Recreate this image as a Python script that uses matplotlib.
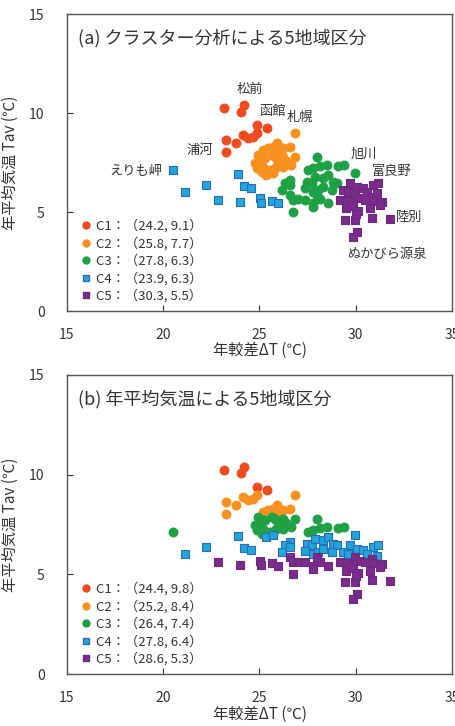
import matplotlib
matplotlib.use('Agg')
import matplotlib.pyplot as plt
from matplotlib.lines import Line2D

plt.rcParams['font.family'] = ['Noto Sans CJK JP', 'DejaVu Sans']

# stations grouped by the cluster of panel (a): 年較差 ΔT, 年平均気温 Tav
DT_C1 = [23.16, 24.19, 24.04, 24.85, 24.16, 24.42, 24.68, 24.85, 23.26, 23.76, 23.26, 25.37]
TAV_C1 = [10.24, 10.40, 10.07, 9.39, 8.89, 8.72, 8.80, 8.97, 8.64, 8.47, 8.05, 9.23]
DT_C2 = [24.94, 25.20, 25.46, 25.72, 25.89, 25.98, 26.24, 26.58, 26.84, 24.77, 25.03, 25.29, 25.63, 25.81,
         26.20, 26.38, 26.64, 25.20, 25.55, 25.81, 25.98, 26.24, 25.34, 24.85, 25.72, 25.11, 26.84]
TAV_C2 = [7.88, 8.13, 8.22, 8.30, 8.50, 8.13, 8.22, 8.27, 7.79, 7.46, 7.59, 7.71, 7.88, 7.79,
          7.79, 7.59, 7.37, 7.26, 7.12, 7.21, 7.46, 7.29, 6.87, 7.21, 6.95, 7.04, 9.00]
DT_C3 = [27.97, 27.54, 27.80, 28.14, 28.49, 29.09, 29.39, 29.96, 26.58, 26.32, 26.15, 26.58, 27.45, 27.71,
         27.88, 28.32, 28.57, 28.83, 29.01, 26.58, 26.76, 27.02, 27.36, 27.80, 28.14, 28.57, 26.72, 27.36,
         27.80, 28.06, 28.32, 28.75, 27.97, 27.80]
TAV_C3 = [7.79, 7.12, 7.21, 7.32, 7.37, 7.32, 7.37, 6.95, 6.62, 6.45, 6.11, 6.36, 6.53, 6.45,
          6.78, 6.70, 6.87, 6.53, 6.45, 5.86, 5.61, 5.64, 5.61, 5.44, 5.64, 5.44, 5.02, 6.19,
          6.03, 6.11, 6.25, 6.11, 5.86, 5.27]
DT_C4 = [20.52, 21.13, 22.22, 22.86, 23.87, 23.99, 24.21, 24.56, 25.03, 25.06, 25.66, 25.94]
TAV_C4 = [7.12, 6.03, 6.36, 5.61, 6.90, 5.49, 6.33, 6.23, 5.69, 5.47, 5.56, 5.44]
DT_C5 = [29.70, 30.05, 30.39, 30.91, 31.17, 29.35, 29.61, 29.96, 30.22, 30.57, 30.83, 31.09, 29.18, 29.56,
         29.87, 30.48, 30.91, 31.35, 29.49, 29.79, 30.10, 30.74, 31.26, 29.44, 29.96, 30.87, 31.78, 30.05,
         29.87, 30.01]
TAV_C5 = [6.45, 6.28, 6.20, 6.36, 6.45, 6.11, 6.03, 5.86, 5.69, 6.03, 5.77, 5.94, 5.61, 5.57,
          5.52, 5.61, 5.57, 5.52, 5.19, 5.30, 5.07, 5.19, 5.35, 4.60, 4.60, 4.71, 4.65, 4.01,
          3.75, 4.90]

# class of the same stations in panel (b) (by annual mean temperature)
B_C1 = [1, 1, 1, 1, 2, 2, 2, 2, 2, 2, 2, 1]
B_C2 = [3, 2, 2, 2, 2, 2, 2, 2, 3, 3, 3, 3, 3, 3, 3, 3, 3, 3, 3, 3, 3, 3, 4, 3, 4, 3, 2]
B_C3 = [3, 3, 3, 3, 3, 3, 3, 4, 4, 4, 4, 4, 4, 4, 4, 4, 4, 4, 4, 5, 5, 5, 5, 5, 5, 5, 5, 4,
        4, 4, 4, 4, 5, 5]
B_C4 = [3, 4, 4, 5, 4, 5, 4, 4, 5, 5, 5, 5]
B_C5 = [4, 4, 4, 4, 4, 4, 4, 5, 5, 4, 5, 4, 5, 5, 5, 5, 5, 5, 5, 5, 5, 5, 5, 5, 5, 5, 5, 5,
        5, 5]

# centroids shown in the legends
CENT_A_DT = [24.2, 25.8, 27.8, 23.9, 30.3]
CENT_A_TAV = [9.1, 7.7, 6.3, 6.3, 5.5]
CENT_B_DT = [24.4, 25.2, 26.4, 27.8, 28.6]
CENT_B_TAV = [9.8, 8.4, 7.4, 6.4, 5.3]

# station names written in panel (a)
STATION_NAMES = ['松前', '函館', '札幌', '浦河', 'えりも岬', '旭川', '富良野', '陸別', 'ぬかびら源泉']
STATION_DT = [24.5, 25.7, 27.1, 21.9, 18.6, 30.4, 31.9, 32.8, 31.6]
STATION_TAV = [11.2, 10.1, 9.8, 8.1, 7.05, 7.9, 7.07, 4.7, 2.83]

COLORS = ['#f04a1e', '#f7901e', '#1ea045', '#22a4dc', '#7b2b8c']
EDGES = ['#f04a1e', '#f7901e', '#1ea045', '#2a6cb4', '#6a2a7e']
MARKERS = ['o', 'o', 'o', 's', 's']
SIZES = [40, 40, 40, 28, 28]


def draw_panel(ax, groups, title, cent_dt, cent_tav):
    for k, (xs, ys) in enumerate(groups):
        ax.scatter(xs, ys, s=SIZES[k], marker=MARKERS[k], c=COLORS[k],
                   edgecolors=EDGES[k], linewidths=0.8, zorder=3)
    ax.set_xlim(15, 35)
    ax.set_ylim(0, 15)
    ax.set_xticks([15, 20, 25, 30, 35])
    ax.set_yticks([0, 5, 10, 15])
    ax.tick_params(direction='in', length=4, labelsize=10, colors='#333333')
    ax.tick_params(axis='x', pad=12)
    ax.tick_params(axis='y', pad=16)
    for sp in ax.spines.values():
        sp.set_color('#555555')
        sp.set_linewidth(1.0)
    ax.set_xlabel('年較差ΔT (℃)', fontsize=11, color='#333333')
    ax.set_ylabel('年平均気温 Tav (℃)', fontsize=11, color='#333333')
    ax.xaxis.set_label_coords(0.5, -0.105)
    ax.yaxis.set_label_coords(-0.125, 0.5)
    ax.text(0.03, 0.92, title, transform=ax.transAxes, fontsize=13,
            color='#333333', va='center', ha='left')

    handles = []
    for k in range(5):
        lab = 'C%d：（%.1f, %.1f）' % (k + 1, cent_dt[k], cent_tav[k])
        handles.append(Line2D([], [], linestyle='none', marker=MARKERS[k],
                              markersize=5 if k < 3 else 4.5,
                              markerfacecolor=COLORS[k], markeredgecolor=EDGES[k],
                              label=lab))
    leg = ax.legend(handles=handles, loc='lower left', bbox_to_anchor=(0.02, 0.0),
                    frameon=False, fontsize=9.5, handlelength=0.6, handletextpad=0.4,
                    labelspacing=0.3, borderaxespad=0.2)
    for t in leg.get_texts():
        t.set_color('#333333')


fig = plt.figure(figsize=(4.55, 7.26), dpi=100)
ax1 = fig.add_axes([0.147, 0.5716, 0.8464, 0.4091])
ax2 = fig.add_axes([0.147, 0.0716, 0.8464, 0.4119])

groups_a = [(DT_C1, TAV_C1), (DT_C2, TAV_C2), (DT_C3, TAV_C3), (DT_C4, TAV_C4), (DT_C5, TAV_C5)]
draw_panel(ax1, groups_a, '(a) クラスター分析による5地域区分', CENT_A_DT, CENT_A_TAV)
for name, x, y in zip(STATION_NAMES, STATION_DT, STATION_TAV):
    ax1.text(x, y, name, fontsize=9.5, ha='center', va='center', color='#333333')

# regroup the same stations by panel (b) class
all_dt = DT_C1 + DT_C2 + DT_C3 + DT_C4 + DT_C5
all_tav = TAV_C1 + TAV_C2 + TAV_C3 + TAV_C4 + TAV_C5
all_b = B_C1 + B_C2 + B_C3 + B_C4 + B_C5
groups_b = []
for k in range(1, 6):
    xs = [x for x, b in zip(all_dt, all_b) if b == k]
    ys = [y for y, b in zip(all_tav, all_b) if b == k]
    groups_b.append((xs, ys))
draw_panel(ax2, groups_b, '(b) 年平均気温による5地域区分', CENT_B_DT, CENT_B_TAV)

fig.savefig('out.png', dpi=100)
